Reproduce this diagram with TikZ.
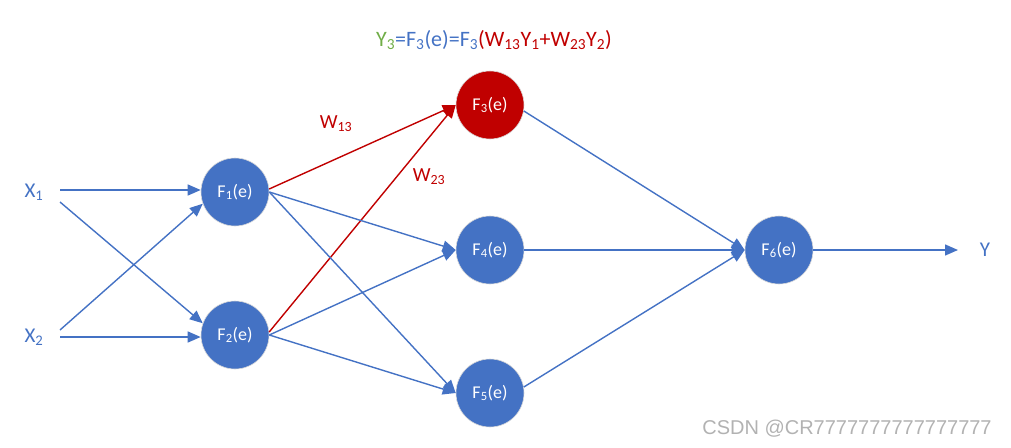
\documentclass[tikz,border=0pt]{standalone}
\usepackage{fontspec}
\setmainfont{Carlito}
\newfontfamily\wmfont{Liberation Sans}
\usetikzlibrary{arrows.meta}
\definecolor{obl}{HTML}{4472C4}
\definecolor{ored}{HTML}{C00000}
\definecolor{ogr}{HTML}{70AD47}
\tikzset{
  neuron/.style={circle,fill=obl,draw=gray!30,line width=0.6pt,minimum size=68pt,inner sep=0pt,text=white,font=\fontsize{18}{20}\selectfont},
  lbl/.style={text=obl,font=\fontsize{21}{24}\selectfont,inner sep=0pt},
  wlbl/.style={text=ored,font=\fontsize{20}{22}\selectfont,inner sep=0pt},
  conn/.style={draw=obl,line width=1.4pt,-{Triangle[length=13pt,width=11pt]}},
  rconn/.style={draw=ored,line width=1.4pt,-{Triangle[length=13pt,width=11pt]}},
}
\begin{document}
\begin{tikzpicture}[x=1pt,y=-1pt]
\useasboundingbox (0,0) rectangle (1011,447);
\node[neuron] (f1) at (235,192) {F\textsubscript{1}(e)};
\node[neuron] (f2) at (235,335) {F\textsubscript{2}(e)};
\node[neuron,fill=ored] (f3) at (490,105) {F\textsubscript{3}(e)};
\node[neuron] (f4) at (490,250) {F\textsubscript{4}(e)};
\node[neuron] (f5) at (490,393) {F\textsubscript{5}(e)};
\node[neuron] (f6) at (779,250) {F\textsubscript{6}(e)};
\node[lbl] (x1) at (34,192) {X\textsubscript{1}};
\node[lbl] (x2) at (34,337) {X\textsubscript{2}};
\node[lbl] (y) at (985,250) {Y};
\coordinate (x1a) at (60,190);
\coordinate (x1b) at (60,202);
\coordinate (x2a) at (60,330);
\coordinate (x2b) at (60,337);
\coordinate (yin) at (958,250);
\draw[conn] (x1a) -- (f1.west |- x1a);
\draw[conn] (x1b) -- (f2.160);
\draw[conn] (x2a) -- (f1.200);
\draw[conn] (x2b) -- (f2.west |- x2b);
\draw[rconn] (f1.5) -- (f3.west);
\draw[rconn] (f2.5) -- (f3.west);
\draw[conn] (f1.east) -- (f4.west);
\draw[conn] (f1.east) -- (f5.west);
\draw[conn] (f2.east) -- (f4.west);
\draw[conn] (f2.east) -- (f5.west);
\draw[conn] (f3.-10) -- (f6.west);
\draw[conn] (f4.east) -- (f6.west);
\draw[conn] (f5.10) -- (f6.west);
\draw[conn] (f6.east) -- (yin);
\node[wlbl] (w13) at (336,124) {W\textsubscript{13}};
\node[wlbl] (w23) at (429,177) {W\textsubscript{23}};
\node[font=\fontsize{22}{24}\selectfont] (eq) at (494,40) {\textcolor{ogr}{Y\textsubscript{3}}\textcolor{obl}{=F\textsubscript{3}(e)=F\textsubscript{3}}\textcolor{ored}{(W\textsubscript{13}Y\textsubscript{1}+W\textsubscript{23}Y\textsubscript{2})}};
\node[text=gray!60,font=\wmfont\fontsize{20}{22}\selectfont] (wm) at (847,429) {CSDN @CR7777777777777777};
\end{tikzpicture}
\end{document}
